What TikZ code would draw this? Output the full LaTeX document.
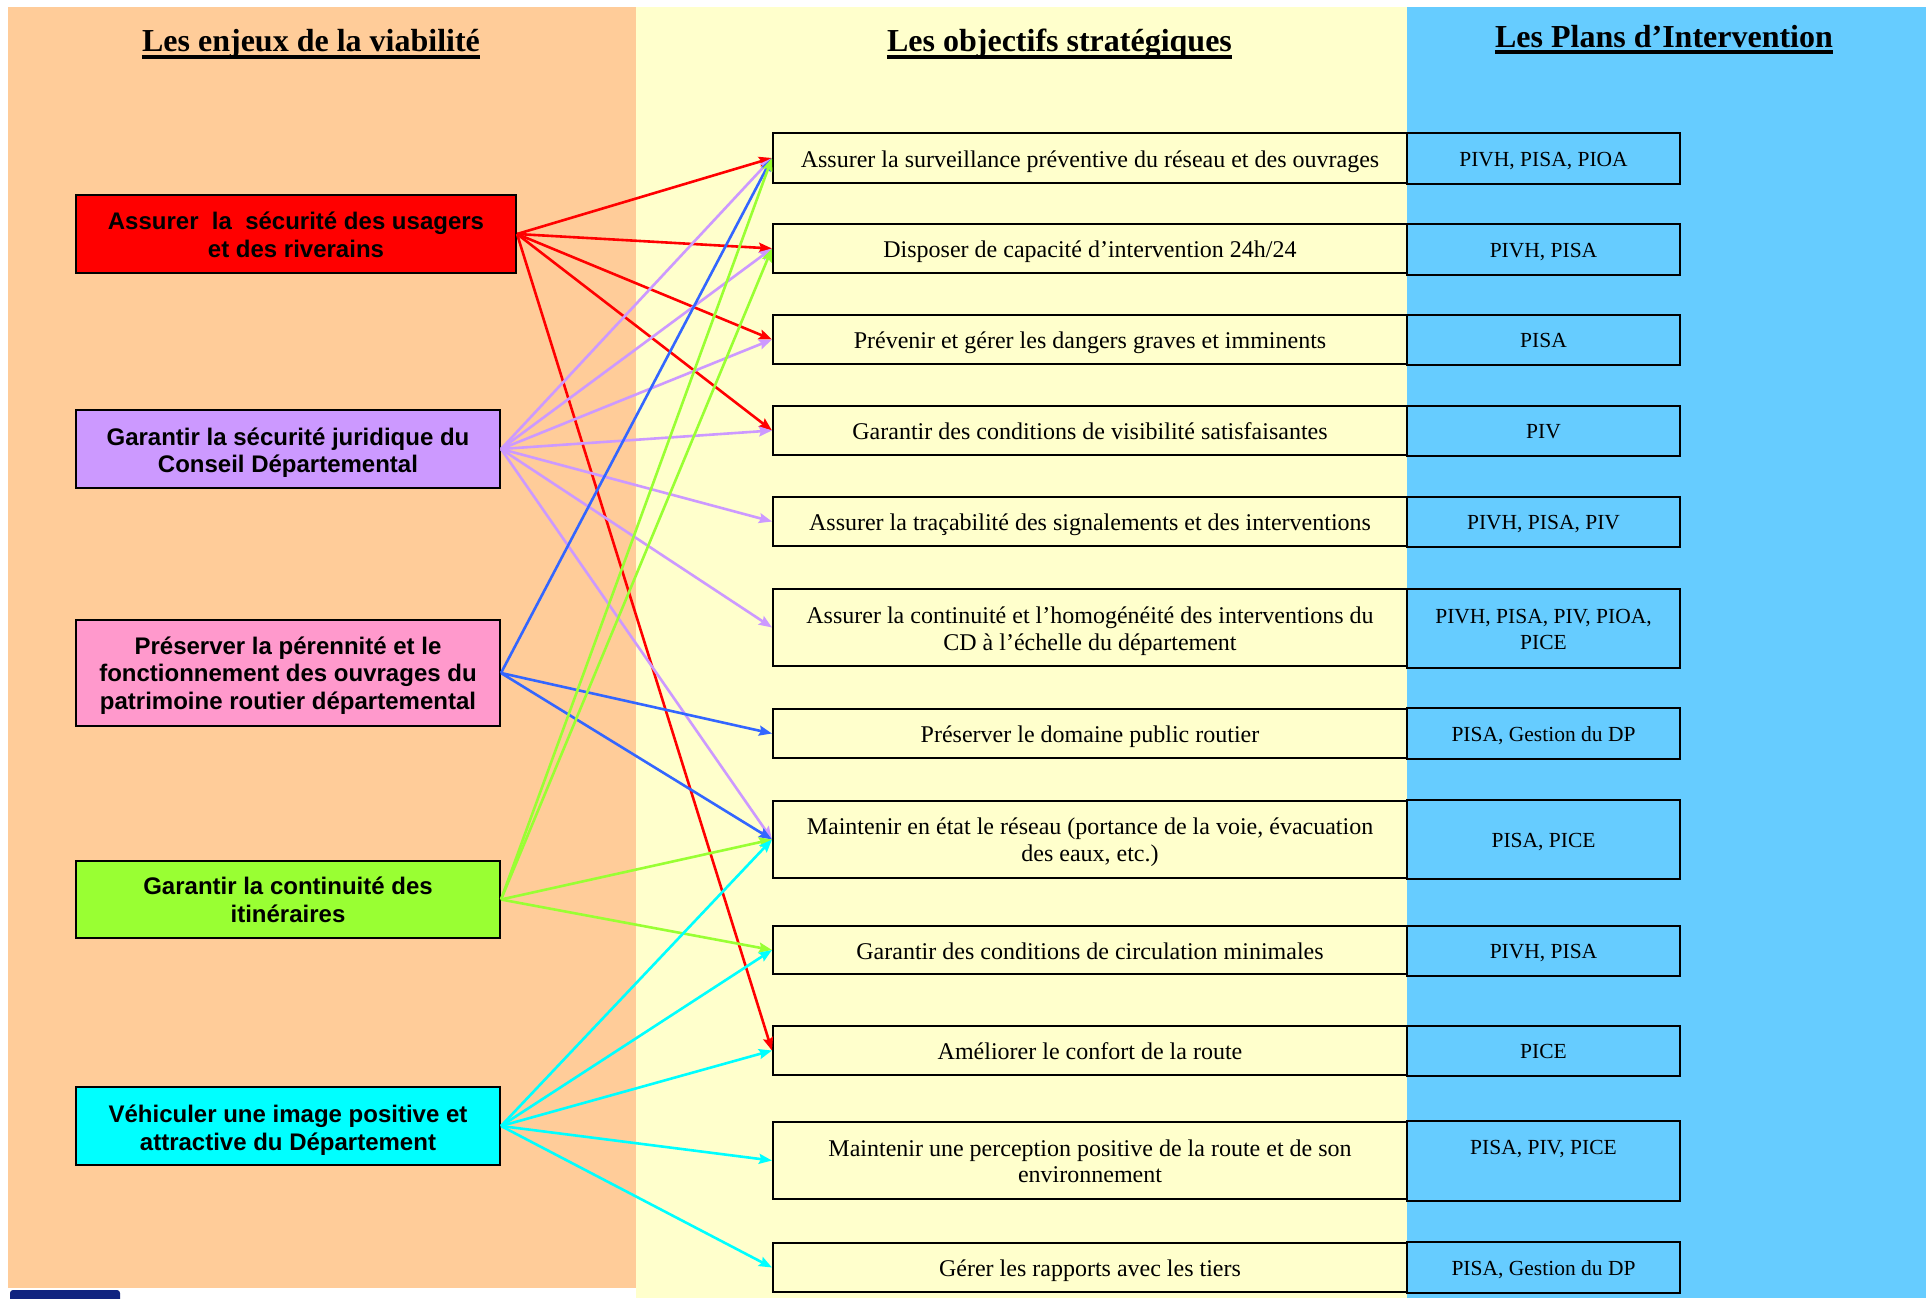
\documentclass[tikz,border=0pt]{standalone}
\usepackage{fontspec}
\setmainfont{Liberation Serif}
\setsansfont{Liberation Sans}
\usetikzlibrary{arrows.meta}
\definecolor{cOrange}{HTML}{FFCC99}
\definecolor{cYellow}{HTML}{FFFFCC}
\definecolor{cBlue}{HTML}{66CCFF}
\definecolor{cRed}{HTML}{FF0000}
\definecolor{cPurple}{HTML}{CC99FF}
\definecolor{cPink}{HTML}{FF99CC}
\definecolor{cGreen}{HTML}{99FF33}
\definecolor{cCyan}{HTML}{00FFFF}
\definecolor{cLineBlue}{HTML}{3366FF}
\definecolor{cNavy}{HTML}{10247F}
% text block, lowered by #1 inside its own box
\newcommand{\boxtxt}[2][2.5pt]{\raisebox{-#1}[\height][\depth]{\begin{tabular}{@{}c@{}}#2\end{tabular}}}
\begin{document}
\begin{tikzpicture}[x=1pt,y=-1pt,
  lbox/.style={draw=black,line width=2pt,inner sep=0pt,minimum width=424pt,minimum height=78pt,font=\sffamily\bfseries\fontsize{24}{27.5}\selectfont},
  mbox/.style={draw=black,line width=2pt,fill=cYellow,inner sep=0pt,minimum width=634pt,minimum height=49pt,font=\fontsize{24}{26.5}\selectfont},
  bbox/.style={draw=black,line width=2pt,fill=cBlue,inner sep=0pt,minimum width=273pt,minimum height=50pt,font=\fontsize{21.5}{26}\selectfont},
  conn/.style={line width=2.6pt,-{Stealth[length=13pt,width=10pt,inset=2pt]}},
  ttl/.style={inner sep=0pt,anchor=base,font=\bfseries\fontsize{32}{36}\selectfont},
  uline/.style={line width=4pt}
]
\useasboundingbox (0,0) rectangle (1926,1298);
% backgrounds
\fill[white] (0,0) rectangle (1926,1298);
\fill[cOrange] (8,7) rectangle (636,1288);
\fill[cYellow] (636,7) rectangle (1407,1298);
\fill[cBlue] (1407,7) rectangle (1926,1298);
\fill[cNavy,rounded corners=3pt] (10,1290) rectangle (120,1310);

% titles
\node[ttl] (t1) at (311,52) {Les enjeux de la viabilité};
\draw[uline] ([yshift=-5pt]t1.base west) -- ([yshift=-5pt]t1.base east);
\node[ttl] (t2) at (1059.5,52) {Les objectifs stratégiques};
\draw[uline] ([yshift=-5pt]t2.base west) -- ([yshift=-5pt]t2.base east);
\node[ttl] (t3) at (1664,48) {Les Plans d’Intervention};
\draw[uline] ([yshift=-4pt]t3.base west) -- ([yshift=-4pt]t3.base east);

% left boxes
\node[lbox,fill=cRed,minimum width=440pt] (L1) at (296,234) {\boxtxt[4.2pt]{Assurer\ \ la\ \ sécurité des usagers\\et des riverains}};
\node[lbox,fill=cPurple] (L2) at (288,449) {\boxtxt[4.5pt]{Garantir la sécurité juridique du\\Conseil Départemental}};
\node[lbox,fill=cPink,minimum height=106pt] (L3) at (288,673) {\boxtxt[3.2pt]{Préserver la pérennité et le\\fonctionnement des ouvrages du\\patrimoine routier départemental}};
\node[lbox,fill=cGreen,minimum height=77pt] (L4) at (288,899.5) {\boxtxt[3.7pt]{Garantir la continuité des\\itinéraires}};
\node[lbox,fill=cCyan] (L5) at (288,1126) {\boxtxt[4.8pt]{Véhiculer une image positive et\\attractive du Département}};

% middle boxes
\node[mbox,minimum height=50pt] (M1) at (1090,158) {\boxtxt[3.8pt]{Assurer la surveillance préventive du réseau et des ouvrages}};
\node[mbox] (M2) at (1090,248.5) {\boxtxt[3.8pt]{Disposer de capacité d’intervention 24h/24}};
\node[mbox] (M3) at (1090,339.5) {\boxtxt[3.8pt]{Prévenir et gérer les dangers graves et imminents}};
\node[mbox] (M4) at (1090,430.5) {\boxtxt[3.8pt]{Garantir des conditions de visibilité satisfaisantes}};
\node[mbox] (M5) at (1090,521.5) {\boxtxt[3.8pt]{Assurer la traçabilité des signalements et des interventions}};
\node[mbox,minimum height=77pt] (M6) at (1090,627.5) {\boxtxt[4pt]{Assurer la continuité et l’homogénéité des interventions du\\CD à l’échelle du département}};
\node[mbox] (M7) at (1090,733.5) {\boxtxt[3.8pt]{Préserver le domaine public routier}};
\node[mbox,minimum height=77pt] (M8) at (1090,839.5) {\boxtxt[3pt]{Maintenir en état le réseau (portance de la voie, évacuation\\des eaux, etc.)}};
\node[mbox,minimum height=48pt] (M9) at (1090,950) {\boxtxt[3.8pt]{Garantir des conditions de circulation minimales}};
\node[mbox] (M10) at (1090,1050.5) {\boxtxt[3.8pt]{Améliorer le confort de la route}};
\node[mbox,minimum height=77pt] (M11) at (1090,1160.5) {\boxtxt[3.5pt]{Maintenir une perception positive de la route et de son\\environnement}};
\node[mbox] (M12) at (1090,1267.5) {\boxtxt[4pt]{Gérer les rapports avec les tiers}};

% blue boxes
\node[bbox,minimum height=51pt] (B1) at (1543.5,158.5) {\boxtxt[2.3pt]{PIVH, PISA, PIOA}};
\node[bbox,minimum height=51pt] (B2) at (1543.5,249.5) {\boxtxt[2.3pt]{PIVH, PISA}};
\node[bbox] (B3) at (1543.5,340) {\boxtxt[2.3pt]{PISA}};
\node[bbox] (B4) at (1543.5,431) {\boxtxt[2.3pt]{PIV}};
\node[bbox] (B5) at (1543.5,522) {\boxtxt[2.3pt]{PIVH, PISA, PIV}};
\node[bbox,minimum height=79pt] (B6) at (1543.5,628.5) {\boxtxt[2.5pt]{PIVH, PISA, PIV, PIOA,\\PICE}};
\node[bbox,minimum height=51pt] (B7) at (1543.5,733.5) {\boxtxt[2.3pt]{PISA, Gestion du DP}};
\node[bbox,minimum height=79pt] (B8) at (1543.5,839.5) {\boxtxt[2.3pt]{PISA, PICE}};
\node[bbox] (B9) at (1543.5,950.5) {\boxtxt[2.3pt]{PIVH, PISA}};
\node[bbox] (B10) at (1543.5,1050.5) {\boxtxt[2.3pt]{PICE}};
\node[bbox,minimum height=80pt] (B11) at (1543.5,1161) {\boxtxt[1pt]{PISA, PIV, PICE\\\mbox{}}};
\node[bbox,minimum height=51pt] (B12) at (1543.5,1267.5) {\boxtxt[2.3pt]{PISA, Gestion du DP}};

% connectors
\foreach \m in {M1,M2,M3,M4,M10} \draw[conn,cRed] (L1.east) -- (\m.west);
\foreach \m in {M1,M2,M3,M4,M5,M6,M8} \draw[conn,cPurple] (L2.east) -- (\m.west);
\foreach \m in {M1,M7,M8} \draw[conn,cLineBlue] (L3.east) -- (\m.west);
\foreach \m in {M1,M2,M8,M9} \draw[conn,cGreen] (L4.east) -- (\m.west);
\foreach \m in {M8,M9,M10,M11,M12} \draw[conn,cCyan] (L5.east) -- (\m.west);
\end{tikzpicture}
\end{document}
